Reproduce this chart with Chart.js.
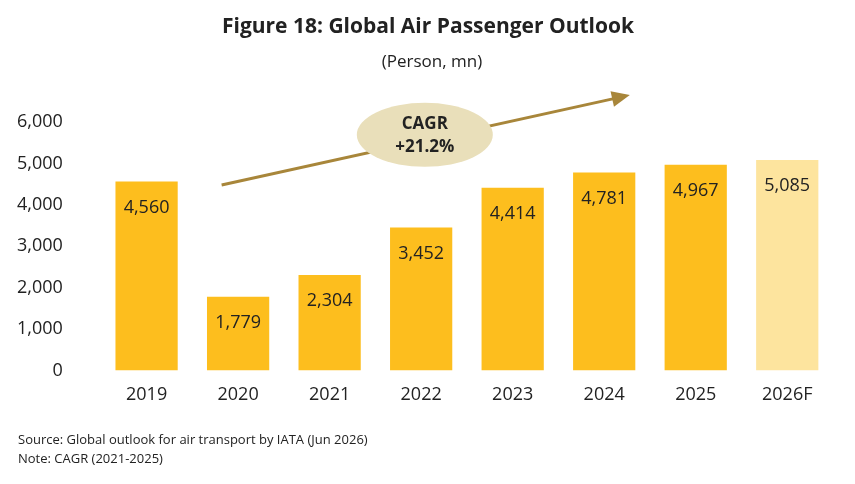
<!DOCTYPE html>
<html>
<head>
<script src="https://cdn.jsdelivr.net/npm/chart.js"></script>
<style>
  body { margin: 0; background: #fff; }
  .taille { width: 855px; height: 484px; }
</style>
</head>
<body>
<div class="taille"><canvas id="myChart"></canvas></div>
<script>
const years = ['2019', '2020', '2021', '2022', '2023', '2024', '2025', '2026F'];
const passengers = [4560, 1779, 2304, 3452, 4414, 4781, 4967, 5085];
const barColors = ['#FDBE1E', '#FDBE1E', '#FDBE1E', '#FDBE1E', '#FDBE1E', '#FDBE1E', '#FDBE1E', '#FDE49E'];
const yTicks = [0, 1000, 2000, 3000, 4000, 5000, 6000];

const font = '"Open Sans", "Liberation Sans", sans-serif';

const extras = {
  id: 'extras',
  afterDatasetsDraw(chart) {
    const { ctx, scales: { x, y } } = chart;
    ctx.save();
    // value labels inside bars
    ctx.fillStyle = '#222';
    ctx.font = `18px ${font}`;
    ctx.textAlign = 'center';
    ctx.textBaseline = 'middle';
    chart.getDatasetMeta(0).data.forEach((bar, i) => {
      ctx.fillText(passengers[i].toLocaleString('en-US'), bar.x, bar.y + 26);
    });
    // CAGR arrow
    const x1 = x.getPixelForValue(0.82), y1 = y.getPixelForValue(4480);
    const x2 = x.getPixelForValue(5.28), y2 = y.getPixelForValue(6650);
    const ang = Math.atan2(y2 - y1, x2 - x1);
    ctx.strokeStyle = '#A8863A';
    ctx.fillStyle = '#A8863A';
    ctx.lineWidth = 3;
    ctx.beginPath();
    ctx.moveTo(x1, y1);
    ctx.lineTo(x2 - 14 * Math.cos(ang), y2 - 14 * Math.sin(ang));
    ctx.stroke();
    ctx.beginPath();
    ctx.moveTo(x2, y2);
    ctx.lineTo(x2 - 18 * Math.cos(ang) + 8 * Math.sin(ang), y2 - 18 * Math.sin(ang) - 8 * Math.cos(ang));
    ctx.lineTo(x2 - 18 * Math.cos(ang) - 8 * Math.sin(ang), y2 - 18 * Math.sin(ang) + 8 * Math.cos(ang));
    ctx.closePath();
    ctx.fill();
    // ellipse
    const cx = x.getPixelForValue(3.04), cy = y.getPixelForValue(5690);
    ctx.fillStyle = '#E9DFBA';
    ctx.beginPath();
    ctx.ellipse(cx, cy, 68, 32, 0, 0, Math.PI * 2);
    ctx.fill();
    ctx.fillStyle = '#222';
    ctx.font = `bold 17px ${font}`;
    ctx.fillText('CAGR', cx, cy - 11);
    ctx.fillText('+21.2%', cx, cy + 12);
    // titles and notes
    ctx.font = `bold 21px ${font}`;
    ctx.fillText('Figure 18: Global Air Passenger Outlook', 428, 27);
    ctx.font = `17px ${font}`;
    ctx.fillText('(Person, mn)', 432, 62);
    ctx.textAlign = 'left';
    ctx.font = `13px ${font}`;
    ctx.fillText('Source: Global outlook for air transport by IATA (Jun 2026)', 18, 440);
    ctx.fillText('Note: CAGR (2021-2025)', 18, 459);
    ctx.restore();
  }
};

new Chart(document.getElementById('myChart'), {
  type: 'bar',
  data: {
    labels: years,
    datasets: [{
      data: passengers,
      backgroundColor: barColors,
      categoryPercentage: 1,
      barPercentage: 0.68
    }]
  },
  options: {
    responsive: true,
    maintainAspectRatio: false,
    animation: false,
    layout: { padding: { top: 122, bottom: 72, left: -13, right: 22 } },
    plugins: { legend: { display: false }, tooltip: { enabled: false } },
    scales: {
      x: {
        grid: { display: false },
        border: { display: false },
        ticks: { color: '#222', font: { family: font, size: 18 }, padding: 6 }
      },
      y: {
        min: 0, max: 6000,
        afterBuildTicks: (axis) => { axis.ticks = yTicks.map(v => ({ value: v })); },
        grid: { display: false },
        border: { display: false },
        ticks: { color: '#222', font: { family: font, size: 18 }, padding: 30,
          callback: (v) => v.toLocaleString('en-US') }
      }
    }
  },
  plugins: [extras]
});
</script>
</body>
</html>
